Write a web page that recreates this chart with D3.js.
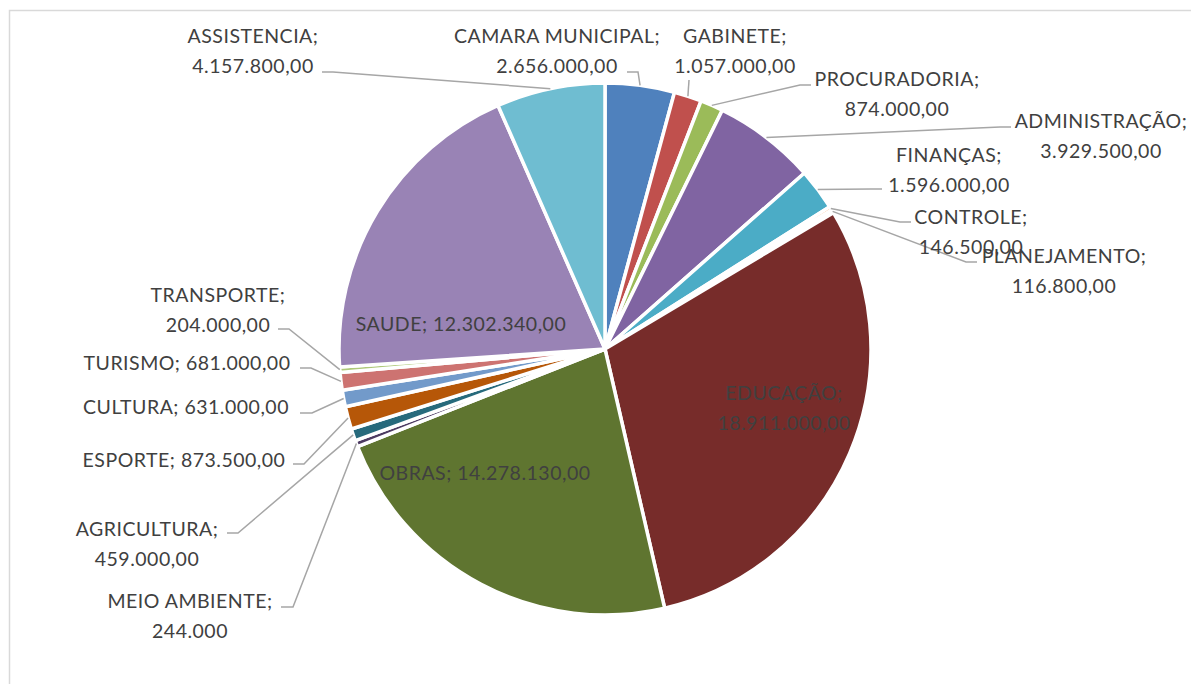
<!DOCTYPE html>
<html>
<head>
<meta charset="utf-8">
<script src="https://cdn.jsdelivr.net/npm/d3@7"></script>
<style>
  body { margin: 0; background: #fff; }
  text { font-family: Lato, "Open Sans", sans-serif; }
</style>
</head>
<body>
<div id="chart"></div>
<script>
let w = 1191;
let h = 684;

// data, clockwise from 12 o'clock
let categories = ["CAMARA MUNICIPAL", "GABINETE", "PROCURADORIA", "ADMINISTRAÇÃO", "FINANÇAS",
  "CONTROLE", "PLANEJAMENTO", "EDUCAÇÃO", "OBRAS", "MEIO AMBIENTE", "AGRICULTURA",
  "ESPORTE", "CULTURA", "TURISMO", "TRANSPORTE", "SAUDE", "ASSISTENCIA"];
let values = [2656000, 1057000, 874000, 3929500, 1596000, 146500, 116800, 18911000,
  14278130, 244000, 459000, 873500, 631000, 681000, 204000, 12302340, 4157800];
// decimals shown in each value label
let decimals = [2, 2, 2, 2, 2, 2, 2, 2, 2, 0, 2, 2, 2, 2, 2, 2, 2];

let colors = ["#4F81BD", "#C0504D", "#9BBB59", "#8064A2", "#4BACC6", "#F79646", "#2C4D75",
  "#772C2A", "#5F7530", "#4D3B62", "#276A7C", "#B65708", "#729ACA", "#CD7371",
  "#AFC97A", "#9983B5", "#6FBDD1"];

// label layout: text centre, first baseline, two lines or one, leader start + elbow
let labelLayout = [
  {x: 557, y: 43, two: true, lead: [627, 72, 638, 72]},
  {x: 735, y: 43, two: true, lead: [689, 80, 689, 80]},
  {x: 897, y: 86, two: true, lead: [811, 85, 800, 85]},
  {x: 1101, y: 128, two: true, lead: [1011, 127, 1000, 127]},
  {x: 949, y: 162, two: true, lead: [882, 189, 871, 189]},
  {x: 971, y: 224, two: true, lead: [911, 222, 900, 222]},
  {x: 1064, y: 263, two: true, lead: [977, 262, 966, 262]},
  {x: 784, y: 400, two: true, lead: null},
  {x: 485, y: 480, two: false, lead: null},
  {x: 190, y: 608, two: true, lead: [281, 607, 293, 607]},
  {x: 147, y: 536, two: true, lead: [227, 533, 238, 533]},
  {x: 184, y: 467, two: false, lead: [293, 464, 304, 464]},
  {x: 186, y: 414, two: false, lead: [300, 413, 312, 413]},
  {x: 187, y: 370, two: false, lead: [300, 368, 311, 368]},
  {x: 218, y: 302, two: true, lead: [278, 329, 289, 329]},
  {x: 461, y: 331, two: false, lead: null},
  {x: 253, y: 43, two: true, lead: [322, 72, 333, 72]}
];

let cx = 605;
let cy = 349;
let r = 266;

let locale = d3.formatLocale({decimal: ",", thousands: ".", grouping: [3], currency: ["", ""]});

let rows = categories.map(function(c, i){
  return {name: c, value: values[i], color: colors[i],
    label: locale.format(",." + decimals[i] + "f")(values[i]), layout: labelLayout[i]};
});

let viz = d3.select("#chart")
  .append("svg")
  .attr("width", w)
  .attr("height", h)
;

// chart area border
viz.append("rect")
  .attr("x", 9.5)
  .attr("y", 10.5)
  .attr("width", w + 50)
  .attr("height", h + 50)
  .attr("fill", "none")
  .attr("stroke", "#D9D9D9")
  .attr("stroke-width", 1.5);

let pie = d3.pie().sort(null).value(d => d.value);
let arcs = pie(rows);

let arc = d3.arc().innerRadius(0).outerRadius(r);
let edgeArc = d3.arc().innerRadius(r).outerRadius(r);

let g = viz.append("g").attr("transform", "translate(" + cx + "," + cy + ")");

g.selectAll(".slice").data(arcs).enter()
  .append("path")
  .attr("class", "slice")
  .attr("d", arc)
  .attr("fill", d => d.data.color)
  .attr("stroke", "#fff")
  .attr("stroke-width", 3.5)
  .attr("stroke-linejoin", "round");

// leader lines
let line = d3.line();
viz.selectAll(".leader").data(arcs.filter(d => d.data.layout.lead)).enter()
  .append("path")
  .attr("class", "leader")
  .attr("d", function(d){
    let l = d.data.layout.lead;
    let p = edgeArc.centroid(d);
    return line([[l[0], l[1]], [l[2], l[3]], [p[0] + cx, p[1] + cy]]);
  })
  .attr("fill", "none")
  .attr("stroke", "#A6A6A6")
  .attr("stroke-width", 1.5);

// labels
let labels = viz.selectAll(".lbl").data(arcs).enter()
  .append("text")
  .attr("class", "lbl")
  .attr("text-anchor", "middle")
  .attr("font-size", 19.5)
  .attr("letter-spacing", 0.5)
  .attr("fill", "#404040");

labels.each(function(d){
  let t = d3.select(this);
  let lay = d.data.layout;
  if (lay.two) {
    t.append("tspan").attr("x", lay.x).attr("y", lay.y).text(d.data.name + ";");
    t.append("tspan").attr("x", lay.x).attr("y", lay.y + 29.5).text(d.data.label);
  } else {
    t.append("tspan").attr("x", lay.x).attr("y", lay.y).text(d.data.name + "; " + d.data.label);
  }
});
</script>
</body>
</html>
